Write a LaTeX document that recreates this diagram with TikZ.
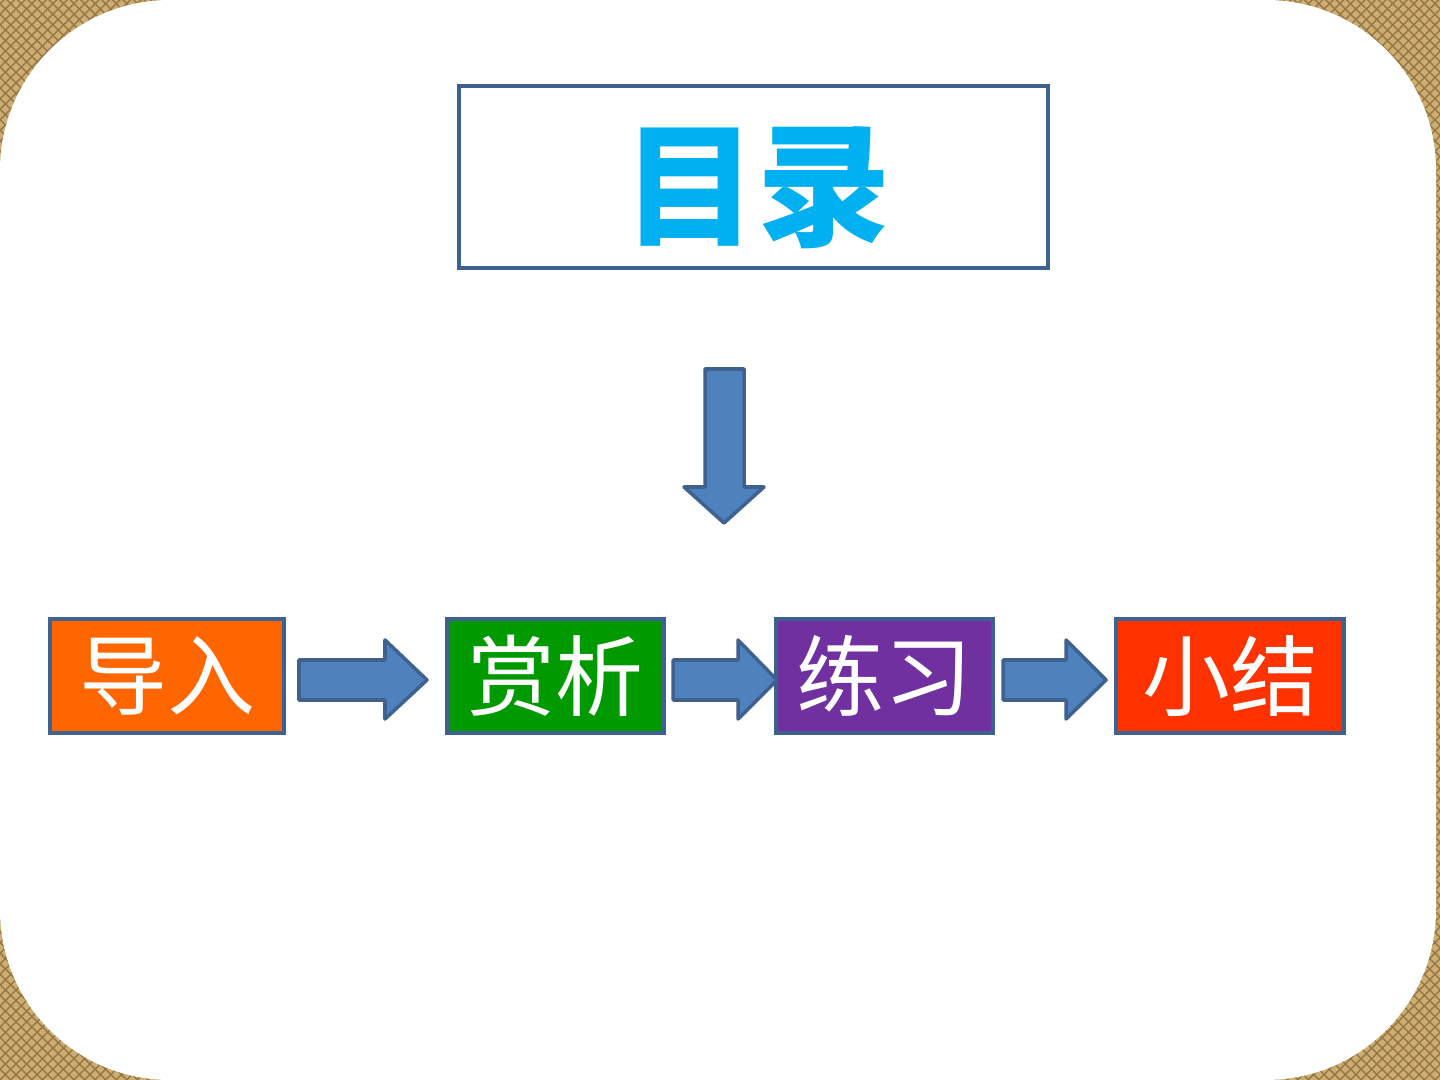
\documentclass[tikz,border=0pt]{standalone}
\usepackage{fontspec}
\usetikzlibrary{patterns}
\newfontfamily\cjk{Noto Sans CJK SC}
\definecolor{burlap}{HTML}{CDAE70}
\definecolor{burlapdark}{HTML}{957646}
\definecolor{edgeblue}{HTML}{3F6190}
\definecolor{arrowblue}{HTML}{4F81BD}
\definecolor{titlecyan}{HTML}{00B0F0}
\definecolor{daoruorange}{HTML}{FF6600}
\definecolor{shangxigreen}{HTML}{009900}
\definecolor{lianxipurple}{HTML}{7030A0}
\definecolor{xiaojiered}{HTML}{FF3300}

\begin{document}
\begin{tikzpicture}[x=0.01cm, y=-0.01cm,
        stage/.style={draw=edgeblue, line width=1pt, inner sep=0pt, minimum height=1.14cm,
            text=white, font=\cjk\fontsize{25}{25}\selectfont},
        blockarrow/.style={fill=arrowblue, draw=edgeblue, line width=1pt, line join=round}]
        % background
        \fill[burlap] (0,0) rectangle (1440,1080);
        \fill[pattern=crosshatch, pattern color=burlapdark] (0,0) rectangle (1440,1080);
        \fill[white, rounded corners=1.7cm] (0,0) rectangle (1436,1080);
        \useasboundingbox (0,0) rectangle (1440,1080);
        % title
        \node[draw=edgeblue, line width=1.2pt, minimum width=5.89cm, minimum height=1.82cm] (mulu) at (753.5,177) {};
        \node[inner sep=0pt, text=titlecyan, font=\cjk\bfseries\fontsize{38}{38}\selectfont] (mulutext) at (757,188) {目录};
        \draw[blockarrow] (705,369) -- (744,369) -- (744,487) -- (764,487) -- (724,523)
            -- (684,487) -- (705,487) -- cycle;
        % steps
        \node[stage, fill=daoruorange, minimum width=2.34cm] (daoru) at (167,676) {导入};
        \node[stage, fill=shangxigreen, minimum width=2.17cm] (shangxi) at (555.5,676) {赏析};
        \node[stage, fill=lianxipurple, minimum width=2.17cm] (lianxi) at (884.5,676) {练习};
        \node[stage, fill=xiaojiered, minimum width=2.28cm] (xiaojie) at (1230,676) {小结};
        \foreach \a/\b/\c in {299/385/427, 673/738/777, 1003/1066/1106}
            \draw[blockarrow] (\a,660) -- (\b,660) -- (\b,640) -- (\c,680) -- (\b,719)
                -- (\b,700) -- (\a,700) -- cycle;
    \end{tikzpicture}
\end{document}
